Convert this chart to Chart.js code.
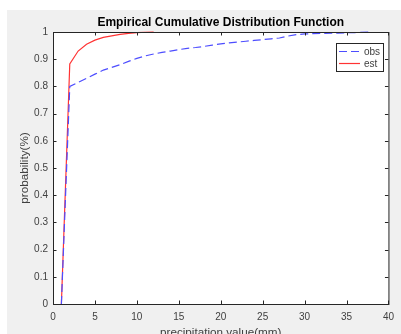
<!DOCTYPE html>
<html>
<head>
    <title>Empirical Cumulative Distribution Function</title>
    <script src="https://cdn.jsdelivr.net/npm/chart.js"></script>
    <style>
        body { margin: 0; background: #fff; }
        canvas { display: block; }
    </style>
</head>
<body>
    <canvas id="cdfChart" width="401" height="334"></canvas>

    <script>
        // values
        const obsX = [1, 2, 3, 4, 5, 6, 7, 8, 9, 10, 11, 12, 13, 14, 15, 16, 17, 18, 19, 20,
                      21, 22, 23, 24, 25, 26, 27, 28, 29, 30, 32, 34, 36, 38];
        const obsY = [0, 0.80, 0.815, 0.83, 0.845, 0.86, 0.87, 0.88, 0.892, 0.903, 0.912, 0.919, 0.925, 0.93, 0.935, 0.94, 0.943, 0.947, 0.952, 0.956,
                      0.96, 0.963, 0.966, 0.969, 0.972, 0.975, 0.978, 0.985, 0.99, 0.993, 0.995, 0.996, 0.998, 1.0];
        const estX = [1, 2, 3, 4, 5, 6, 7, 8, 9, 10, 11, 12];
        const estY = [0, 0.883, 0.93, 0.955, 0.97, 0.98, 0.986, 0.991, 0.995, 0.998, 0.999, 1.0];
        const xTicks = [0, 5, 10, 15, 20, 25, 30, 35, 40];
        const yTicks = [0, 0.1, 0.2, 0.3, 0.4, 0.5, 0.6, 0.7, 0.8, 0.9, 1];

        const axisColor = '#262626';
        const textColor = '#404040';
        const fontFam = 'Arial, "Liberation Sans", sans-serif';

        const toPts = (xs, ys) => xs.map((x, i) => ({ x: x, y: ys[i] }));

        // matlab-ish figure: grey window, white axes, boxed frame with inward ticks
        const matlabLook = {
            id: 'matlabLook',
            beforeDraw(chart) {
                const { ctx, chartArea: a, width, height } = chart;
                ctx.save();
                ctx.fillStyle = '#fff';
                ctx.fillRect(0, 0, width, height);
                ctx.fillStyle = '#f0f0f0';
                ctx.fillRect(7, 10, width - 7, height - 10);
                ctx.fillStyle = '#fff';
                ctx.fillRect(a.left, a.top, a.right - a.left, a.bottom - a.top);
                ctx.restore();
            },
            afterDraw(chart) {
                const { ctx, chartArea: a } = chart;
                const xs = chart.scales.x, ys = chart.scales.y;
                const tl = 3.5;
                ctx.save();
                ctx.strokeStyle = axisColor;
                ctx.lineWidth = 1;
                ctx.beginPath();
                xs.ticks.forEach(t => {
                    const px = Math.round(xs.getPixelForValue(t.value)) + 0.5;
                    ctx.moveTo(px, a.bottom); ctx.lineTo(px, a.bottom - tl);
                    ctx.moveTo(px, a.top); ctx.lineTo(px, a.top + tl);
                });
                ys.ticks.forEach(t => {
                    const py = Math.round(ys.getPixelForValue(t.value)) + 0.5;
                    ctx.moveTo(a.left, py); ctx.lineTo(a.left + tl, py);
                    ctx.moveTo(a.right, py); ctx.lineTo(a.right - tl, py);
                });
                ctx.stroke();
                ctx.strokeRect(a.left + 0.5, a.top + 0.5, a.right - a.left, a.bottom - a.top);

                // title
                const cx = (a.left + a.right) / 2;
                ctx.fillStyle = '#000';
                ctx.textAlign = 'center';
                ctx.textBaseline = 'middle';
                ctx.font = 'bold 12px ' + fontFam;
                ctx.fillText('Empirical Cumulative Distribution Function', cx, 23);

                // axis titles
                ctx.fillStyle = textColor;
                ctx.font = '11.7px ' + fontFam;
                ctx.fillText('precipitation value(mm)', cx, 333);
                ctx.save();
                ctx.translate(25, (a.top + a.bottom) / 2);
                ctx.rotate(-Math.PI / 2);
                ctx.fillText('probability(%)', 0, 0);
                ctx.restore();

                // legend box, top right inside the axes
                const lx = 336, ly = 43, lw = 47, lh = 28;
                ctx.fillStyle = '#fff';
                ctx.fillRect(lx, ly, lw, lh);
                ctx.strokeStyle = axisColor;
                ctx.strokeRect(lx + 0.5, ly + 0.5, lw, lh);
                ctx.font = '10px ' + fontFam;
                ctx.textAlign = 'left';
                chart.data.datasets.forEach((ds, i) => {
                    const opts = chart.getDatasetMeta(i).dataset.options;
                    const y = ly + 8 + i * 12;
                    ctx.strokeStyle = opts.borderColor;
                    ctx.lineWidth = 1.2;
                    ctx.setLineDash(opts.borderDash || []);
                    ctx.beginPath();
                    ctx.moveTo(lx + 3, y + 0.5);
                    ctx.lineTo(lx + 24, y + 0.5);
                    ctx.stroke();
                    ctx.setLineDash([]);
                    ctx.fillStyle = textColor;
                    ctx.fillText(ds.label, lx + 28, y + 1);
                });
                ctx.restore();
            }
        };

        new Chart(document.getElementById('cdfChart'), {
            type: 'line',
            data: {
                datasets: [
                    {
                        label: 'obs',
                        data: toPts(obsX, obsY),
                        borderColor: '#4d4dff',
                        borderWidth: 1.2,
                        borderDash: [8, 4],
                        pointRadius: 0,
                        tension: 0,
                        fill: false,
                        clip: 2
                    },
                    {
                        label: 'est',
                        data: toPts(estX, estY),
                        borderColor: '#ff3333',
                        borderWidth: 1.2,
                        pointRadius: 0,
                        tension: 0,
                        fill: false,
                        clip: 2
                    }
                ]
            },
            options: {
                responsive: false,
                animation: false,
                layout: { padding: { top: 32, right: 8, left: 0, bottom: 0 } },
                plugins: {
                    legend: { display: false },
                    title: { display: false },
                    tooltip: { enabled: false }
                },
                scales: {
                    x: {
                        type: 'linear',
                        min: 0,
                        max: 40,
                        afterBuildTicks: s => { s.ticks = xTicks.map(v => ({ value: v })); },
                        afterFit: s => { s.height = 30; },
                        grid: { display: false, drawTicks: false },
                        border: { display: false },
                        ticks: {
                            padding: 7,
                            maxRotation: 0,
                            color: textColor,
                            font: { family: fontFam, size: 10 },
                            callback: v => v
                        }
                    },
                    y: {
                        type: 'linear',
                        min: 0,
                        max: 1,
                        afterBuildTicks: s => { s.ticks = yTicks.map(v => ({ value: v })); },
                        afterFit: s => { s.width = 53; },
                        grid: { display: false, drawTicks: false },
                        border: { display: false },
                        ticks: {
                            padding: 5,
                            color: textColor,
                            font: { family: fontFam, size: 10 },
                            callback: v => +v.toFixed(1)
                        }
                    }
                }
            },
            plugins: [matlabLook]
        });
    </script>
</body>
</html>
